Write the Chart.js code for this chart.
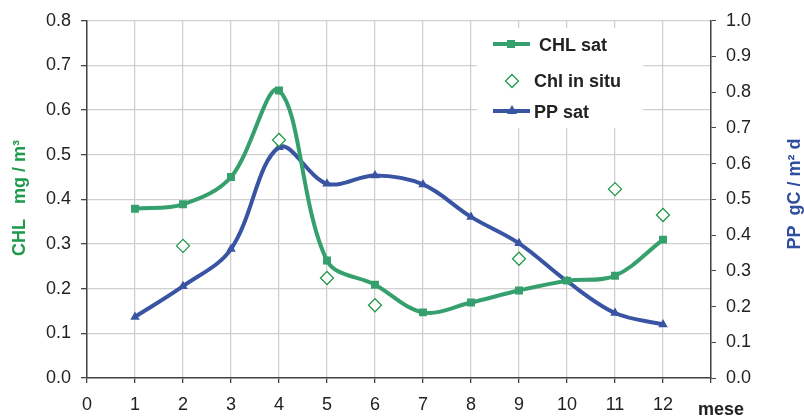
<!DOCTYPE html>
<html>
<head>
<meta charset="utf-8">
<script src="https://cdn.jsdelivr.net/npm/chart.js@4"></script>
<style>
  html, body { margin: 0; padding: 0; background: #fff; }
  #wrap { width: 804px; height: 417px; }
</style>
</head>
<body>
<div id="wrap"><canvas id="myChart"></canvas></div>
<script>
// months and values
const months = [1, 2, 3, 4, 5, 6, 7, 8, 9, 10, 11, 12];
const chlSat = [0.379, 0.389, 0.45, 0.644, 0.263, 0.209, 0.147, 0.169, 0.196, 0.218, 0.229, 0.31];
const inSituMonths = [2, 4, 5, 6, 9, 11, 12];
const chlInSitu = [0.296, 0.533, 0.224, 0.163, 0.267, 0.423, 0.365];
const ppSat = [0.171, 0.257, 0.361, 0.646, 0.544, 0.567, 0.542, 0.451, 0.377, 0.271, 0.182, 0.15];

const green = '#35a06e';
const diamondGreen = '#23994a';
const blue = '#3a54a4';
const fontFam = '"Liberation Sans", Arial, sans-serif';

Chart.defaults.font.family = fontFam;
Chart.defaults.color = '#222';

// legend box inside the plot, axis titles and the "mese" label
const extras = {
    id: 'extras',
    beforeDatasetsDraw(chart) {
        const c = chart.ctx;
        c.save();
        c.fillStyle = '#fff';
        c.fillRect(477, 28, 166, 100);
        c.font = 'bold 18px ' + fontFam;
        c.textBaseline = 'middle';

        c.strokeStyle = green; c.lineWidth = 4;
        c.beginPath(); c.moveTo(493, 44); c.lineTo(530, 44); c.stroke();
        c.fillStyle = green; c.fillRect(507, 40, 8, 8);
        c.fillStyle = '#222';
        c.fillText('CHL sat', 539, 46);

        c.strokeStyle = diamondGreen; c.lineWidth = 1.3;
        c.beginPath(); c.moveTo(512, 74.5); c.lineTo(518.5, 81); c.lineTo(512, 87.5); c.lineTo(505.5, 81); c.closePath(); c.stroke();
        c.fillText('Chl in situ', 534, 82);

        c.strokeStyle = blue; c.lineWidth = 4;
        c.beginPath(); c.moveTo(493, 111); c.lineTo(530, 111); c.stroke();
        c.fillStyle = blue;
        c.beginPath(); c.moveTo(512, 105); c.lineTo(517, 114); c.lineTo(507, 114); c.closePath(); c.fill();
        c.fillStyle = '#222';
        c.fillText('PP sat', 534, 113);
        c.restore();
    },
    afterDraw(chart) {
        const c = chart.ctx;
        c.save();
        c.font = 'bold 18px ' + fontFam;
        c.textBaseline = 'alphabetic';
        c.fillStyle = '#222';
        c.fillText('mese', 698, 415);

        c.textAlign = 'center';
        c.save();
        c.translate(25, 198);
        c.rotate(-Math.PI / 2);
        c.fillStyle = '#1f9a4c';
        c.fillText('CHL   mg / m³', 0, 0);
        c.restore();

        c.save();
        c.translate(800, 194);
        c.rotate(-Math.PI / 2);
        c.fillStyle = '#2f4ea0';
        c.fillText('PP  gC / m² d', 0, 0);
        c.restore();
        c.restore();
    }
};

const ctx = document.getElementById('myChart');
new Chart(ctx, {
    type: 'line',
    data: {
        datasets: [{
            label: 'CHL sat',
            data: months.map((m, i) => ({x: m, y: chlSat[i]})),
            borderColor: green,
            backgroundColor: green,
            borderWidth: 4,
            pointStyle: 'rect',
            pointRadius: 5.6,
            pointBorderWidth: 0,
            tension: 0.35,
            yAxisID: 'y'
        }, {
            label: 'Chl in situ',
            data: inSituMonths.map((m, i) => ({x: m, y: chlInSitu[i]})),
            showLine: false,
            borderColor: diamondGreen,
            backgroundColor: '#fff',
            pointStyle: 'rectRot',
            pointRadius: 6.5,
            pointBorderWidth: 1.3,
            yAxisID: 'y'
        }, {
            label: 'PP sat',
            data: months.map((m, i) => ({x: m, y: ppSat[i]})),
            borderColor: blue,
            backgroundColor: blue,
            borderWidth: 4,
            pointStyle: 'triangle',
            pointRadius: 5.5,
            pointBorderWidth: 0,
            tension: 0.35,
            yAxisID: 'y1'
        }]
    },
    options: {
        responsive: true,
        maintainAspectRatio: false,
        animation: false,
        layout: { padding: { top: 19, right: 0, left: 0, bottom: 0 } },
        plugins: {
            legend: { display: false },
            tooltip: { enabled: false }
        },
        scales: {
            x: {
                type: 'linear',
                min: 0,
                max: 13,
                afterFit: s => { s.height = 39; },
                ticks: {
                    stepSize: 1,
                    font: { size: 18 },
                    padding: 11,
                    maxRotation: 0,
                    callback: v => v === 13 ? '' : v
                },
                grid: { color: '#d0d0d0', lineWidth: 1.3, tickColor: '#444', tickLength: 5 },
                border: { color: '#444', width: 1.5 }
            },
            y: {
                position: 'left',
                min: 0,
                max: 0.8,
                afterFit: s => { s.width = 87; },
                ticks: {
                    stepSize: 0.1,
                    font: { size: 18 },
                    padding: 10,
                    callback: v => v.toFixed(1)
                },
                grid: { color: '#d0d0d0', lineWidth: 1.3, tickColor: '#444', tickLength: 6 },
                border: { color: '#444', width: 1.5 }
            },
            y1: {
                position: 'right',
                min: 0,
                max: 1.0,
                afterFit: s => { s.width = 93; },
                ticks: {
                    stepSize: 0.1,
                    font: { size: 18 },
                    padding: 10,
                    callback: v => v.toFixed(1)
                },
                grid: { drawOnChartArea: false, tickColor: '#444', tickLength: 5 },
                border: { color: '#444', width: 1.5 }
            }
        }
    },
    plugins: [extras]
});
</script>
</body>
</html>
